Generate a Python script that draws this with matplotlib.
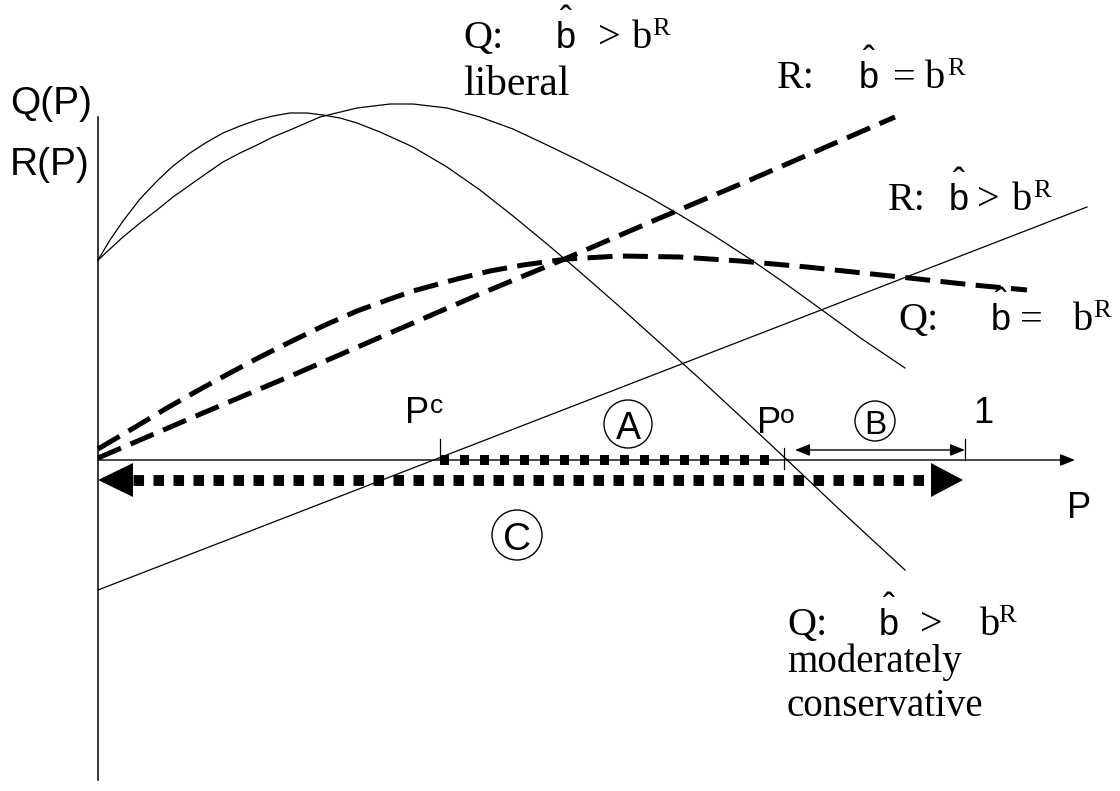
import matplotlib.pyplot as plt
from matplotlib.patches import Circle, Polygon

plt.rcParams['lines.scale_dashes'] = False

SANS = 'Liberation Sans'
SERIF = 'Liberation Serif'

# drawing is kept in the pixel space of the original sketch (y grows downwards)

# Q curve, liberal (wide hump)
q_lib_x = [98, 110, 123, 140, 157, 173, 190, 207, 223, 240, 257, 273, 290, 320,
           357, 390, 413, 447, 480, 513, 547, 580, 613, 647, 680, 713, 750, 786,
           822, 862, 905]
q_lib_y = [260, 249, 237, 223, 210, 197, 185, 173, 162, 153, 145, 137, 130, 117,
           108, 104, 104, 108, 117, 129, 145, 161, 178, 196, 215, 235, 259, 284,
           310, 339, 368]

# Q curve, moderately conservative (early peak)
q_mod_x = [98, 110, 123, 140, 157, 173, 190, 207, 223, 240, 257, 273, 290, 307,
           323, 340, 357, 380, 413, 447, 480, 513, 547, 580, 620, 660, 700, 740,
           784, 840, 905]
q_mod_y = [260, 240, 221, 199, 181, 166, 153, 142, 133, 126, 120, 116, 113, 113,
           115, 118, 123, 132, 147, 167, 190, 216, 244, 272, 307, 343, 379, 416,
           457, 510, 570]

# R line, b_hat > b_R
r_gt_x = [98, 1087]
r_gt_y = [590, 207]

# Q dashed, b_hat = b_R
q_eq_x = [98, 137, 167, 197, 228, 260, 290, 323, 357, 390, 413, 457, 490, 523,
          567, 620, 680, 740, 807, 900, 973, 1027]
q_eq_y = [449, 426, 408, 391, 374, 357, 342, 326, 311, 299, 291, 279, 271, 265,
          259, 256, 257, 261, 267, 277, 285, 290]

# R dashed, b_hat = b_R
r_eq_x = [98, 203, 300, 390, 480, 567, 660, 750, 895]
r_eq_y = [458, 413, 372, 333, 294, 258, 218, 180, 117]

# axes
axis_x0 = 98
axis_y = 460
axis_x_end = 1075
vaxis_top = 117
vaxis_bottom = 780

# points on the P axis
p_c = 440
p_o = 784
p_one = 965

# ranges A, B, C
a_range = (440, 775)
a_y = 460
b_range = (795, 965)
b_y = 450
c_range = (98, 963)
c_y = 480

# circled letters: letter, centre x, centre y, radius, letter size
circled = [('A', 628, 424, 24, 27), ('B', 875, 421, 20, 24), ('C', 517, 535, 25, 28)]

# sans labels: x, baseline, text, size
sans_labels = [
    (10, 114, 'Q(P)', 28),
    (10, 175, 'R(P)', 28),
    (405, 423, 'P', 26), (430, 413, 'c', 19),
    (757, 433, 'P', 26), (780, 423, 'o', 19),
    (973, 423, '1', 26),
    (1067, 518, 'P', 26),
]

# serif labels: x, baseline, text, size
serif_labels = [
    (463, 48, 'Q:', 29), (598, 48, '>', 29), (632, 48, 'b', 29), (652, 35, 'R', 19),
    (463, 95, 'liberal', 30),
    (777, 88, 'R:', 29), (893, 88, '=', 29), (925, 88, 'b', 29), (947, 75, 'R', 19),
    (888, 210, 'R:', 29), (977, 210, '>', 29), (1012, 210, 'b', 29), (1033, 197, 'R', 19),
    (898, 330, 'Q:', 29), (1020, 330, '=', 29), (1073, 330, 'b', 29), (1093, 317, 'R', 19),
    (787, 635, 'Q:', 29), (920, 635, '>', 29), (980, 635, 'b', 29), (998, 622, 'R', 19),
    (787, 672, 'moderately', 28),
    (787, 716, 'conservative', 28),
]

# b-hat glyphs (sans b with a circumflex): x, baseline
b_hats = [(557, 48), (860, 88), (950, 210), (992, 330), (880, 635)]

fig = plt.figure(figsize=(11.2, 7.91), dpi=100)
ax = fig.add_axes([0, 0, 1, 1])
ax.set_xlim(0, 1120)
ax.set_ylim(791, 0)
ax.axis('off')

thin = 0.9
# curves
ax.plot(q_lib_x, q_lib_y, color='black', lw=thin, solid_joinstyle='round')
ax.plot(q_mod_x, q_mod_y, color='black', lw=thin, solid_joinstyle='round')
ax.plot(r_gt_x, r_gt_y, color='black', lw=thin)
for xs, ys in [(q_eq_x, q_eq_y), (r_eq_x, r_eq_y)]:
    ax.plot(xs, ys, color='black', lw=3.6, dashes=(18, 7.5), dash_capstyle='butt',
            dash_joinstyle='round')

# axes
ax.plot([axis_x0, axis_x0], [vaxis_top, vaxis_bottom], color='black', lw=1.1)
ax.annotate('', xy=(axis_x_end, axis_y), xytext=(axis_x0, axis_y),
            arrowprops=dict(arrowstyle='-|>,head_length=0.9,head_width=0.36',
                            mutation_scale=10, color='black', lw=1.0,
                            shrinkA=0, shrinkB=0))

# ticks
ax.plot([p_c, p_c], [439, axis_y], color='black', lw=thin)
ax.plot([p_o, p_o], [448, 469], color='black', lw=thin)
ax.plot([p_one, p_one], [439, axis_y], color='black', lw=thin)

# A dotted
ax.plot(a_range, [a_y, a_y], color='black', lw=7.2, dashes=(6.5, 7.9),
        dash_capstyle='butt')
# C dotted with big arrow heads
head_len, head_half = 35, 17
ax.plot([c_range[0] + head_len, c_range[1] - 32], [c_y, c_y], color='black',
        lw=7.8, dashes=(7.6, 6.8), dash_capstyle='butt')
ax.add_patch(Polygon([(c_range[0], c_y), (c_range[0] + head_len, c_y - head_half),
                      (c_range[0] + head_len, c_y + head_half)], closed=True,
                     color='black', lw=0))
ax.add_patch(Polygon([(c_range[1], c_y), (c_range[1] - 32, c_y - head_half),
                      (c_range[1] - 32, c_y + head_half)], closed=True,
                     color='black', lw=0))
# B double arrow
ax.annotate('', xy=(b_range[1], b_y), xytext=(b_range[0], b_y),
            arrowprops=dict(arrowstyle='<|-|>,head_length=0.9,head_width=0.36',
                            mutation_scale=10, color='black', lw=1.0,
                            shrinkA=0, shrinkB=0))

# circled letters
for letter, cx, cy, r, size in circled:
    ax.add_patch(Circle((cx, cy), r, fill=False, color='black', lw=1.0))
    ax.text(cx, cy + 1, letter, family=SANS, fontsize=size, ha='center',
            va='center_baseline')

for x, y, s, size in sans_labels:
    ax.text(x, y, s, family=SANS, fontsize=size, ha='left', va='baseline')

for x, y, s, size in serif_labels:
    ax.text(x, y, s, family=SERIF, fontsize=size, ha='left', va='baseline')

# b with a hat on top, as one two-line text
for x, y in b_hats:
    ax.text(x + 9, y, '\u02c6\nb', family=SANS, fontsize=26, ha='center',
            va='baseline', multialignment='center', linespacing=0.3)

fig.savefig('out.png', dpi=100)
